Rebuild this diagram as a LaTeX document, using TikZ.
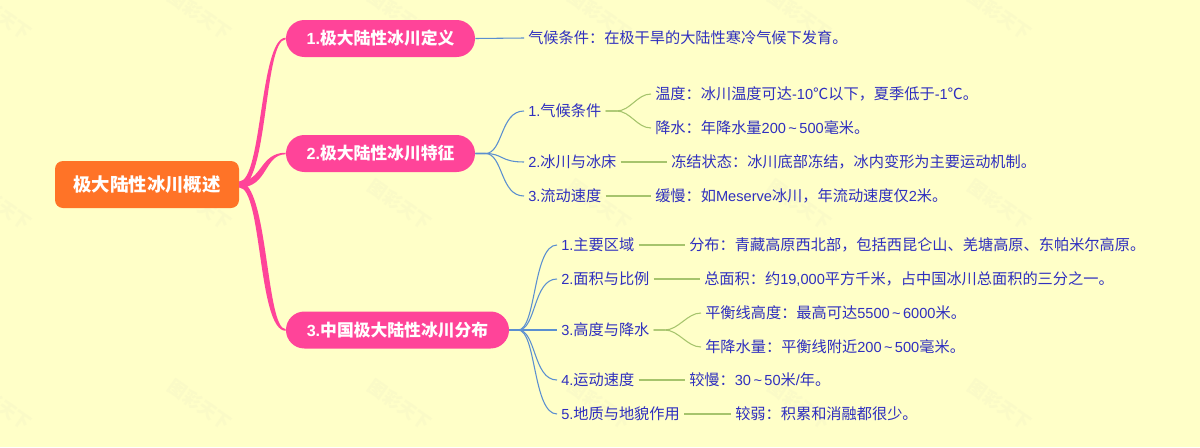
\documentclass[tikz,border=0pt]{standalone}
\usepackage{fontspec}
\setmainfont{Noto Sans CJK SC}
\newfontfamily\latfont[Scale=0.96]{Liberation Sans}
\usetikzlibrary{calc}

\definecolor{bgyellow}{HTML}{FFFFC8}
\definecolor{rootorange}{HTML}{FF7327}
\definecolor{branchpink}{HTML}{FF4499}
\definecolor{subblue}{HTML}{5B8FD0}
\definecolor{leafgreen}{HTML}{A6C46C}
\definecolor{textblue}{HTML}{2F2FBF}
\definecolor{markgray}{HTML}{FAFAC7}

\newcommand{\lat}[1]{{\latfont #1}}
\newcommand{\tl}{\,\char`\~\,}

% tapered line from the root to a branch, #3 is 1 going up and -1 going down
\newcommand{\taperline}[3]{
  \fill[branchpink]
    ($(#1.east)+(0,-3)$) .. controls ($(#1.east)+({26-3*#3},-3)$) and ($(#2.west)+({-26+3*(1-#3)},-0.8)$) .. ($(#2.west)+(0,-0.8)$)
    -- ($(#2.west)+(0,0.8)$) .. controls ($(#2.west)+({-22-3*(1-#3)},0.8)$) and ($(#1.east)+({26+3*#3},3)$) .. ($(#1.east)+(0,3)$) -- cycle;
}

\tikzset{
  rootnode/.style={fill=rootorange,text=white,rounded corners=6pt,minimum width=138pt,minimum height=35.25pt,inner sep=0pt,font=\fontsize{13.8pt}{16pt}\selectfont\bfseries},
  branchnode/.style={fill=branchpink,text=white,rounded corners=13.8pt,minimum height=27.75pt,inner sep=0pt,font=\fontsize{12.6pt}{15pt}\selectfont\bfseries},
  textnode/.style={anchor=west,text=textblue,inner xsep=3pt,inner ysep=0pt,font=\fontsize{11.4pt}{13pt}\selectfont},
  subline/.style={subblue,line width=0.8pt},
  leafline/.style={leafgreen,line width=0.8pt},
  watermark/.style={text=markgray,rotate=-35,font=\fontsize{13.5pt}{16pt}\selectfont\bfseries},
}

\begin{document}
\begin{tikzpicture}[x=0.75pt,y=-0.75pt]
\fill[bgyellow] (0,0) rectangle (1200,447);
\useasboundingbox (0,0) rectangle (1200,447);

\foreach \mx in {0,200,...,1000}
  \foreach \my in {15,205,405}
    \node[watermark] (mark-\mx-\my) at (\mx,\my) {图彩天下};

\node[rootnode] (root) at (147,184.5) {极大陆性冰川概述};
\node[branchnode,minimum width=141.75pt] (def) at (380.5,38.5) {\lat{1.}极大陆性冰川定义};
\node[branchnode,minimum width=141.75pt] (feat) at (380.5,153.5) {\lat{2.}极大陆性冰川特征};
\node[branchnode,minimum width=167.25pt] (dist) at (397.5,330) {\lat{3.}中国极大陆性冰川分布};

\taperline{root}{def}{1}
\taperline{root}{feat}{1}
\taperline{root}{dist}{-1}

\node[textnode] (defa) at (524,38) {气候条件：在极干旱的大陆性寒冷气候下发育。};

\node[textnode] (feata) at (524,111) {\lat{1.}气候条件};
\node[textnode] (featb) at (524,162) {\lat{2.}冰川与冰床};
\node[textnode] (featc) at (524,196) {\lat{3.}流动速度};
\node[textnode] (feataa) at (651,94) {温度：冰川温度可达\lat{-10}℃以下，夏季低于\lat{-1}℃。};
\node[textnode] (featab) at (651,128) {降水：年降水量\lat{200\tl500}毫米。};
\node[textnode] (featba) at (667,162) {冻结状态：冰川底部冻结，冰内变形为主要运动机制。};
\node[textnode] (featca) at (651,196) {缓慢：如\lat{Meserve}冰川，年流动速度仅\lat{2}米。};

\node[textnode] (dista) at (557,245) {\lat{1.}主要区域};
\node[textnode] (distb) at (557,279) {\lat{2.}面积与比例};
\node[textnode] (distc) at (557,330) {\lat{3.}高度与降水};
\node[textnode] (distd) at (557,380) {\lat{4.}运动速度};
\node[textnode] (diste) at (557,414) {\lat{5.}地质与地貌作用};
\node[textnode] (distaa) at (685,245) {分布：青藏高原西北部，包括西昆仑山、羌塘高原、东帕米尔高原。};
\node[textnode] (distba) at (700,279) {总面积：约\lat{19,000}平方千米，占中国冰川总面积的三分之一。};
\node[textnode] (distca) at (701,313) {平衡线高度：最高可达\lat{5500\tl6000}米。};
\node[textnode] (distcb) at (701,347) {年降水量：平衡线附近\lat{200\tl500}毫米。};
\node[textnode] (distda) at (685,380) {较慢：\lat{30\tl50}米\lat{/}年。};
\node[textnode] (distea) at (731,414) {较弱：积累和消融都很少。};

% blue lines
\draw[subline] (def.east) -- (defa.west);
\foreach \to in {feata,featb,featc}
  \draw[subline] (feat.east) -- ++(10,0) .. controls +(18,0) and ($(\to.west)+(-24,0)$) .. (\to.west);
\foreach \to in {dista,distb,distc,distd,diste}
  \draw[subline] (dist.east) -- ++(9,0) .. controls +(18,0) and ($(\to.west)+(-24,0)$) .. (\to.west);

% green lines
\foreach \from/\to in {feata/feataa,feata/featab,distc/distca,distc/distcb}
  \draw[leafline] (\from.east) -- ++(11,0) .. controls +(14,0) and ($(\to.west)+(-14,0)$) .. (\to.west);
\foreach \from/\to in {featb/featba,featc/featca,dista/distaa,distb/distba,distd/distda,diste/distea}
  \draw[leafline] (\from.east) -- (\to.west);

\end{tikzpicture}
\end{document}
